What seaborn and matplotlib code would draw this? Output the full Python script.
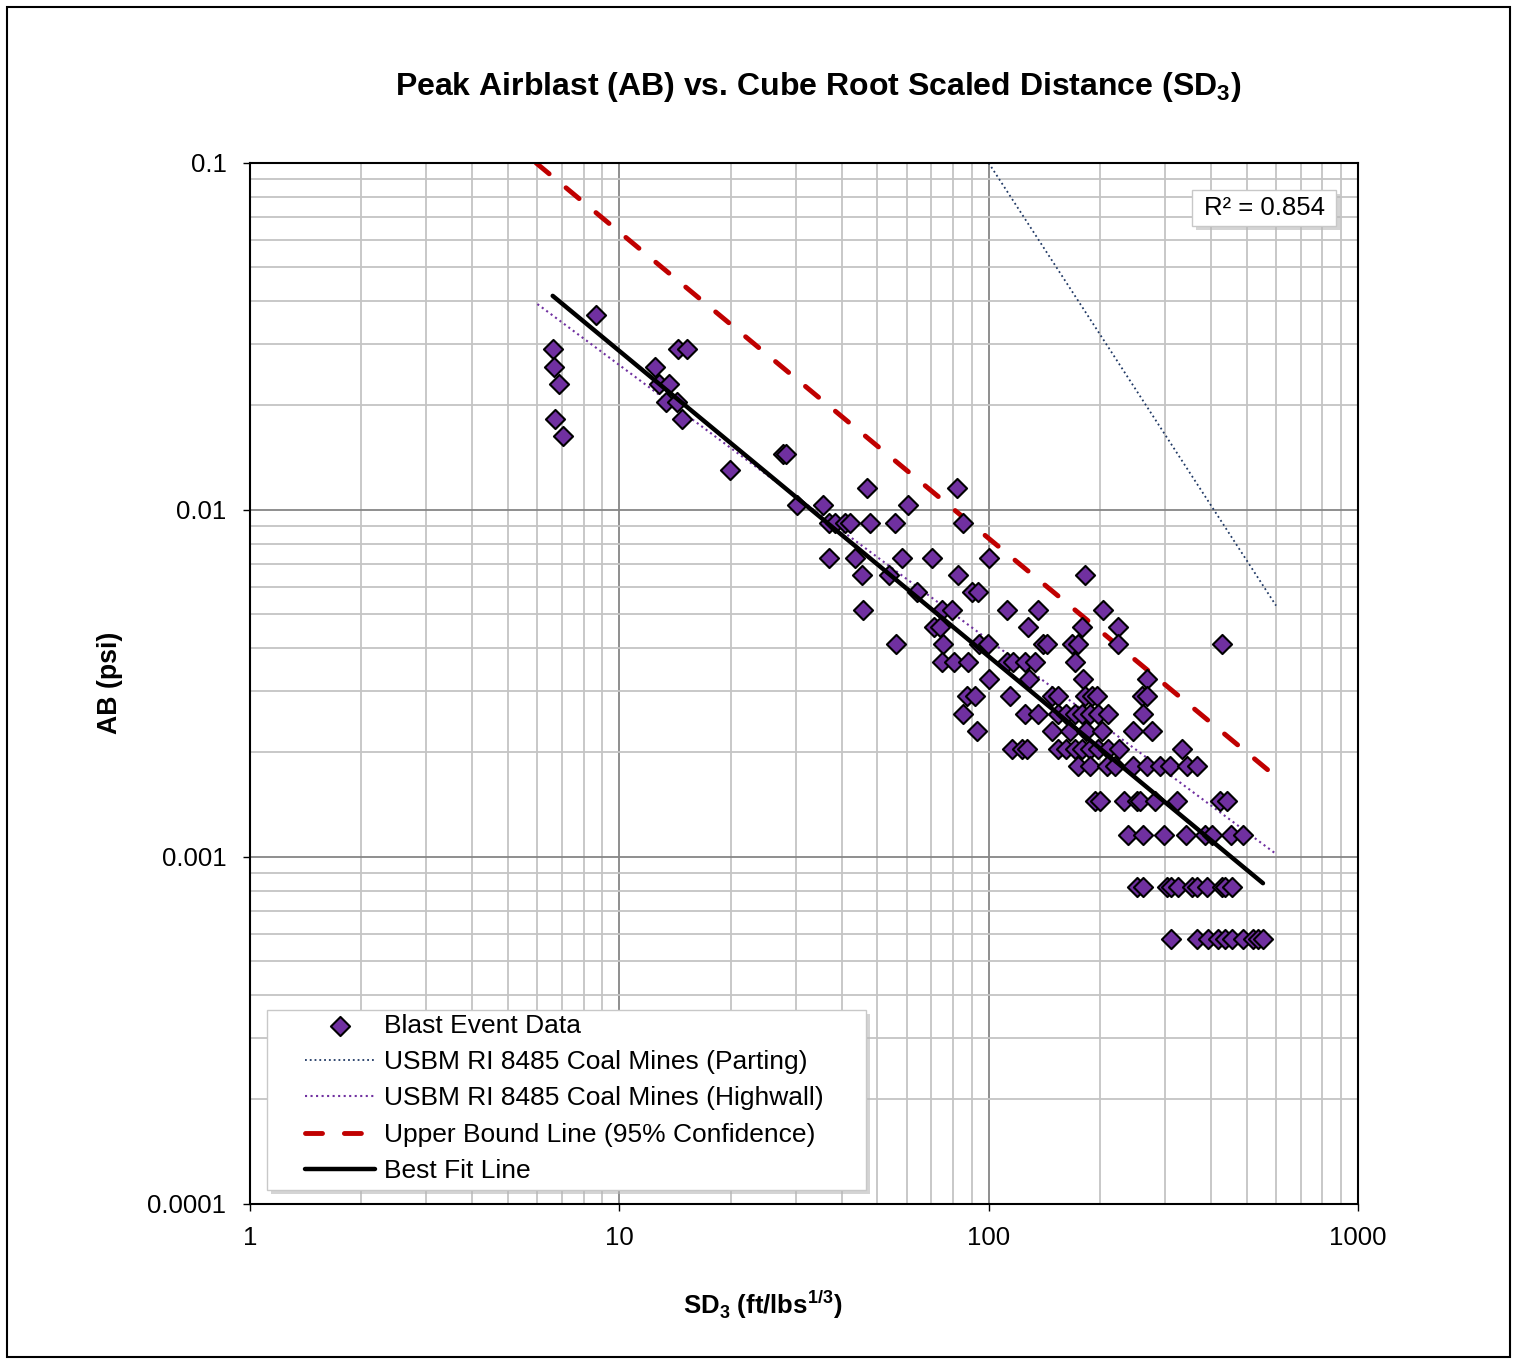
import pandas as pd
import seaborn as sns
import matplotlib.pyplot as plt
import matplotlib.ticker as ticker
from matplotlib.patches import Rectangle

# Blast event data: scaled distance (ft/lbs^1/3) and airblast (psi)
sd3 = [
    6.63, 6.67, 6.85, 6.71, 7.05, 8.63, 12.5, 14.45, 15.2, 12.8, 13.6, 13.4, 14.3, 14.8, 19.9, 27.7, 28.3,
    46.8, 82.0,
    30.3, 35.5, 60.6,
    37.0, 38.4, 40.8, 42.2, 47.7, 55.8, 85.4,
    37.0, 43.5, 58.4, 70.1, 100.2,
    45.3, 53.7, 82.8, 182.4,
    63.8, 90.2, 93.6,
    45.6, 74.6, 79.7, 111.9, 135.8, 204.5,
    71.2, 73.9, 127.6, 179.4, 224.5,
    56.1, 75.4, 94.3, 99.8, 140.6, 144.2, 168.5, 174.9, 224.5, 427.7,
    74.6, 80.6, 87.9, 111.9, 116.7, 125.5, 133.6, 171.2,
    100.5, 128.9, 179.6, 268.0,
    87.4, 91.9, 114.3, 148.3, 154.5, 182.4, 190.2, 196.3, 259.8, 268.0,
    85.2, 125.5, 136.1, 154.2, 162.1, 171.4, 179.1, 188.2, 197.8, 210.5, 261.8,
    93.0, 148.5, 166.1, 183.5, 202.8, 246.0, 276.9,
    115.7, 123.1, 127.0, 154.2, 162.1, 171.4, 179.1, 188.2, 197.8, 210.5, 225.5, 334.0,
    174.6, 188.2, 209.2, 219.9, 246.0, 268.5, 291.1, 309.9, 344.5, 366.6,
    194.1, 200.3, 232.6, 252.2, 257.0, 282.2, 323.7, 423.1, 442.0,
    238.5, 261.8, 298.5, 342.3, 385.5, 402.7, 453.4, 488.6,
    252.2, 261.8, 304.1, 311.9, 325.7, 355.4, 366.6, 390.4, 428.5, 436.6, 456.1,
    311.9, 366.6, 392.7, 418.0, 436.6, 456.1, 488.6, 519.9, 536.4, 553.4,
]
ab = [
    0.0290, 0.0259, 0.0231, 0.0183, 0.0163, 0.0365, 0.0259, 0.0290, 0.0290, 0.0231, 0.0231, 0.0205, 0.0205, 0.0183, 0.0130, 0.0145, 0.0145,
    0.01155, 0.01155,
    0.0103, 0.0103, 0.0103,
    0.00917, 0.00917, 0.00917, 0.00917, 0.00917, 0.00917, 0.00917,
    0.00729, 0.00729, 0.00729, 0.00729, 0.00729,
    0.00649, 0.00649, 0.00649, 0.00649,
    0.00579, 0.00579, 0.00579,
    0.00516, 0.00516, 0.00516, 0.00516, 0.00516, 0.00516,
    0.0046, 0.0046, 0.0046, 0.0046, 0.0046,
    0.0041, 0.0041, 0.0041, 0.0041, 0.0041, 0.0041, 0.0041, 0.0041, 0.0041, 0.0041,
    0.00365, 0.00365, 0.00365, 0.00365, 0.00365, 0.00365, 0.00365, 0.00365,
    0.00325, 0.00325, 0.00325, 0.00325,
    0.0029, 0.0029, 0.0029, 0.0029, 0.0029, 0.0029, 0.0029, 0.0029, 0.0029, 0.0029,
    0.00258, 0.00258, 0.00258, 0.00258, 0.00258, 0.00258, 0.00258, 0.00258, 0.00258, 0.00258, 0.00258,
    0.0023, 0.0023, 0.0023, 0.0023, 0.0023, 0.0023, 0.0023,
    0.00205, 0.00205, 0.00205, 0.00205, 0.00205, 0.00205, 0.00205, 0.00205, 0.00205, 0.00205, 0.00205, 0.00205,
    0.00183, 0.00183, 0.00183, 0.00183, 0.00183, 0.00183, 0.00183, 0.00183, 0.00183, 0.00183,
    0.00145, 0.00145, 0.00145, 0.00145, 0.00145, 0.00145, 0.00145, 0.00145, 0.00145,
    0.001155, 0.001155, 0.001155, 0.001155, 0.001155, 0.001155, 0.001155, 0.001155,
    0.000817, 0.000817, 0.000817, 0.000817, 0.000817, 0.000817, 0.000817, 0.000817, 0.000817, 0.000817, 0.000817,
    0.000579, 0.000579, 0.000579, 0.000579, 0.000579, 0.000579, 0.000579, 0.000579, 0.000579, 0.000579,
]

# Reference / fit lines (end points)
parting_sd3 = [100, 600]
parting_ab = [0.1, 0.0053]
highwall_sd3 = [6, 600]
highwall_ab = [0.0392, 0.00102]
upper_sd3 = [5.95, 578]
upper_ab = [0.1, 0.00176]
fit_sd3 = [6.6, 553]
fit_ab = [0.0414, 0.00084]

x_ticks = [1, 10, 100, 1000]
y_ticks = [0.0001, 0.001, 0.01, 0.1]

df = pd.DataFrame({'SD3': sd3, 'AB': ab})

# Styling
sns.set_theme(style='white')
plt.rcParams['font.family'] = ['Liberation Sans', 'DejaVu Sans']
plt.rcParams['mathtext.fontset'] = 'custom'
plt.rcParams['mathtext.rm'] = 'Liberation Sans'
plt.rcParams['mathtext.bf'] = 'Liberation Sans:bold'
plt.rcParams['text.color'] = 'black'
fs = 18.5

fig = plt.figure(figsize=(15.19, 13.59), dpi=100)
ax = fig.add_axes([0.1646, 0.1141, 0.7294, 0.766])
ax.set_xscale('log')
ax.set_yscale('log')

# Plot
sns.scatterplot(data=df, x='SD3', y='AB', marker='D', s=95, color='#7030a0',
                edgecolor='black', linewidth=1.5, zorder=3, ax=ax, label='Blast Event Data')
sns.lineplot(x=parting_sd3, y=parting_ab, color='#1f3864', lw=1.3, ls=':', sort=False,
             zorder=2, ax=ax, label='USBM RI 8485 Coal Mines (Parting)')
sns.lineplot(x=highwall_sd3, y=highwall_ab, color='#7030a0', lw=1.5, ls=':', sort=False,
             zorder=2, ax=ax, label='USBM RI 8485 Coal Mines (Highwall)')
sns.lineplot(x=upper_sd3, y=upper_ab, color='#c00000', lw=3.5, dashes=False, sort=False,
             zorder=2, ax=ax, label='Upper Bound Line (95% Confidence)')
sns.lineplot(x=fit_sd3, y=fit_ab, color='black', lw=3.2, sort=False,
             zorder=4, ax=ax, label='Best Fit Line')
ax.lines[2].set_dashes((3.5, 4.5))
ax.lines[2].set_dash_capstyle('round')

ax.set_xlim(1, 1000)
ax.set_ylim(0.0001, 0.1)
ax.xaxis.set_major_locator(ticker.FixedLocator(x_ticks))
ax.yaxis.set_major_locator(ticker.FixedLocator(y_ticks))
ax.xaxis.set_major_formatter(ticker.FuncFormatter(lambda v, p: f'{v:g}'))
ax.yaxis.set_major_formatter(ticker.FuncFormatter(lambda v, p: f'{v:g}'))
ax.xaxis.set_minor_locator(ticker.LogLocator(base=10, subs=range(2, 10)))
ax.yaxis.set_minor_locator(ticker.LogLocator(base=10, subs=range(2, 10)))
ax.xaxis.set_minor_formatter(ticker.NullFormatter())
ax.yaxis.set_minor_formatter(ticker.NullFormatter())

ax.set_axisbelow(True)
ax.grid(which='major', color='#868686', lw=1.3)
ax.grid(which='minor', color='#c4c4c4', lw=1.3)
for s in ax.spines.values():
    s.set_color('black')
    s.set_linewidth(1.5)
ax.tick_params(which='major', direction='out', length=5, width=1, color='black',
               labelcolor='black', labelsize=fs, left=True, bottom=True)
ax.tick_params(axis='x', which='major', pad=11)
ax.tick_params(axis='y', which='major', pad=12)
ax.tick_params(which='minor', length=0)

ax.set_xlabel('')
ax.set_ylabel('')

# Legend frame with a soft shadow, drawn as plain patches
fx, fy, fw, fh = 0.01534, 0.01345, 0.5406, 0.1729
ax.add_patch(Rectangle((fx + 0.004, fy - 0.004), fw, fh, transform=ax.transAxes,
                       fc='#b8b8b8', ec='none', alpha=0.6, zorder=6))
ax.add_patch(Rectangle((fx, fy), fw, fh, transform=ax.transAxes,
                       fc='white', ec='#c8c8c8', lw=1, zorder=6))

# Legend in chart order
handles, labels = ax.get_legend_handles_labels()
order = ['Blast Event Data', 'USBM RI 8485 Coal Mines (Parting)',
         'USBM RI 8485 Coal Mines (Highwall)', 'Upper Bound Line (95% Confidence)',
         'Best Fit Line']
hmap = dict(zip(labels, handles))
leg = ax.legend([hmap[l] for l in order], order, loc='center left',
                bbox_to_anchor=(0.0496, 0.1013), fontsize=19, frameon=False,
                handlelength=2.65, handletextpad=0.34, labelspacing=0.47,
                borderpad=0, borderaxespad=0)
leg.set_zorder(7)

# R-squared box with shadow
rx, ry, rw, rh = 0.8502, 0.9395, 0.13, 0.0346
ax.add_patch(Rectangle((rx + 0.004, ry - 0.004), rw, rh, transform=ax.transAxes,
                       fc='#b8b8b8', ec='none', alpha=0.6, zorder=6))
ax.add_patch(Rectangle((rx, ry), rw, rh, transform=ax.transAxes,
                       fc='white', ec='#c8c8c8', lw=1, zorder=6))
ax.text(0.9152, 0.9568, 'R² = 0.854', transform=ax.transAxes, ha='center', va='center',
        fontsize=fs, zorder=7)

# Titles and axis labels
fig.text(0.5385, 1 - 87 / 1359, r'Peak Airblast (AB) vs. Cube Root Scaled Distance (SD$_\mathbf{3}$)',
         ha='center', va='center', fontsize=23, fontweight='bold')
fig.text(110 / 1519, 1 - 683 / 1359, 'AB (psi)', rotation=90, ha='center', va='center',
         fontsize=19.2, fontweight='bold')
fig.text(763 / 1519, 1 - 1305 / 1359, r'SD$_\mathbf{3}$ (ft/lbs$^\mathbf{1/3}$)',
         ha='center', va='center', fontsize=fs, fontweight='bold')

# Outer chart border
fig.add_artist(Rectangle((7 / 1519, 2 / 1359), 1503 / 1519, 1350 / 1359,
                         transform=fig.transFigure, fill=False, ec='black', lw=1.5))

fig.savefig('out.png', dpi=100)
